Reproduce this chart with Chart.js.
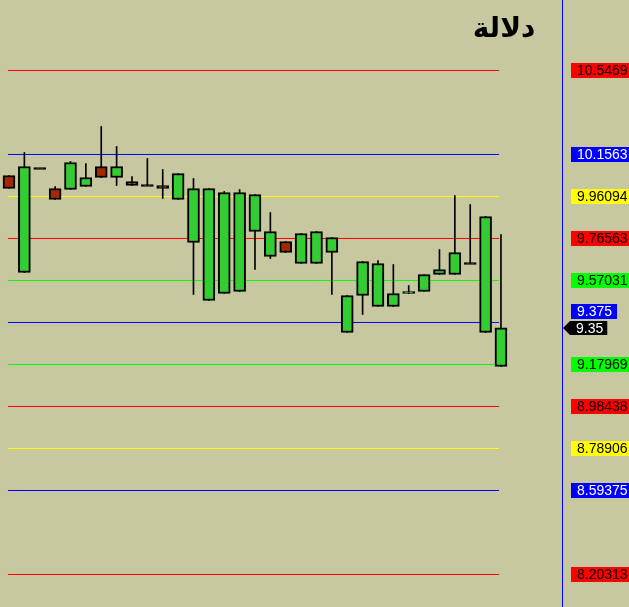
<!DOCTYPE html>
<html>
<head>
<meta charset="utf-8">
<script src="https://cdn.jsdelivr.net/npm/chart.js@4.4.1/dist/chart.umd.min.js"></script>
<style>
html,body{margin:0;padding:0;background:#C8C8A0;overflow:hidden}
#wrap{width:629px;height:607px;position:relative}
</style>
</head>
<body>
<div id="wrap"><canvas id="c" width="629" height="607"></canvas></div>
<script>
// ---- data ----
const titleText = 'دلالة';
const sessions = [1,2,3,4,5,6,7,8,9,10,11,12,13,14,15,16,17,18,19,20,21,22,23,24,25,26,27,28,29,30,31,32,33];
const opens  = [10.0586, 9.6075,10.0912, 9.9982, 9.9935,10.0075,10.1005,10.0493,10.0307,10.0121,10.0121, 9.9470, 9.7470, 9.4773, 9.5099, 9.5192, 9.7982, 9.6819, 9.7517, 9.6494, 9.6494, 9.7005, 9.3285, 9.5006, 9.4494, 9.4494, 9.5099, 9.5192, 9.5982, 9.5982, 9.6494, 9.3285, 9.1704];
const highs  = [10.0586,10.1656,10.0912,10.0075,10.1237,10.1144,10.2865,10.1935,10.0540,10.1377,10.0865,10.0679,10.0447, 9.9982, 9.9842, 9.9935, 9.9702, 9.8865, 9.7517, 9.7889, 9.7982, 9.7703, 9.5006, 9.6587, 9.6633, 9.6447, 9.5471, 9.5982, 9.7145, 9.9656, 9.9237, 9.8679, 9.7842];
const lows   = [ 9.9982, 9.6075,10.0912, 9.9470, 9.9935,10.0075,10.0493,10.0121,10.0121,10.0121, 9.9517, 9.9470, 9.5052, 9.4773, 9.5099, 9.5192, 9.6215, 9.6726, 9.7005, 9.6494, 9.6494, 9.5052, 9.3285, 9.4122, 9.4494, 9.4494, 9.5099, 9.5192, 9.5982, 9.5982, 9.6494, 9.3285, 9.1704];
const closes = [ 9.9982,10.1005,10.0912, 9.9470,10.1191,10.0493,10.0493,10.1005,10.0121,10.0121, 9.9982,10.0679, 9.9982, 9.9982, 9.9795, 9.9795, 9.9702, 9.7982, 9.7005, 9.7889, 9.7982, 9.7703, 9.5006, 9.6587, 9.6494, 9.5099, 9.5192, 9.5982, 9.6215, 9.7005, 9.6494, 9.8679, 9.3500];
const levels      = [10.5469, 10.1563, 9.96094, 9.76563, 9.57031, 9.375, 9.17969, 8.98438, 8.78906, 8.59375, 8.20313];
const levelLabels = ['10.5469','10.1563','9.96094','9.76563','9.57031','9.375','9.17969','8.98438','8.78906','8.59375','8.20313'];
const lastPrice = 9.35;
const lastPriceLabel = '9.35';

// ---- styles ----
const levelColors = ['#FF0000','#0000FF','#FFFF00','#FF0000','#00FF00','#0000FF','#00FF00','#FF0000','#FFFF00','#0000FF','#FF0000'];
const levelTextColors = levelColors.map(c => c === '#0000FF' ? '#FFFFFF' : '#000000');
const BG = '#C8C8A0';
const UP = '#33CC33';
const DOWN = '#A32800';
const DOJI_HALF = 0.0046;

const idx = sessions.map((s, i) => i);
const bodyData = idx.map(i => {
  const o = opens[i], c = closes[i];
  if (o === c) return {x: i, y: [o - DOJI_HALF, o + DOJI_HALF]};
  return {x: i, y: [Math.min(o, c), Math.max(o, c)]};
});
const wickData = idx.map(i => ({x: i, y: [lows[i], highs[i]]}));
const bodyColor = ctx => {
  const i = ctx.dataIndex;
  if (opens[i] === closes[i]) return '#000000';
  return closes[i] > opens[i] ? UP : DOWN;
};

const levelDatasets = levels.map((v, k) => ({
  type: 'line',
  data: [{x: -0.07, y: v}, {x: 31.87, y: v}],
  borderColor: levelColors[k],
  borderWidth: 1,
  pointRadius: 0,
  fill: false,
  order: 3
}));

const bgPlugin = {
  id: 'bg',
  beforeDraw(chart) {
    const ctx = chart.ctx;
    ctx.save();
    ctx.fillStyle = BG;
    ctx.fillRect(0, 0, chart.width, chart.height);
    ctx.restore();
  }
};

const labelPlugin = {
  id: 'levelLabels',
  afterDraw(chart) {
    const ctx = chart.ctx;
    const ys = chart.scales.y;
    const xBox = chart.chartArea.right + 9;
    const h = 15;
    ctx.save();
    ctx.font = '14px "Liberation Sans", Arial, sans-serif';
    ctx.textBaseline = 'middle';
    ctx.textAlign = 'left';
    const py = ys.getPixelForValue(lastPrice);
    const pTop = py - 7, pBot = py + 7;
    levels.forEach((v, k) => {
      let cy = ys.getPixelForValue(v);
      // collision avoidance with last-price tag
      if (cy + h / 2 > pTop - 2 && cy - h / 2 < pBot + 2) {
        cy = (cy <= py) ? pTop - 2 - h / 2 : pBot + 2 + h / 2;
      }
      const tw = ctx.measureText(levelLabels[k]).width;
      ctx.fillStyle = levelColors[k];
      ctx.fillRect(xBox, Math.round(cy - h / 2), tw + 11, h);
      ctx.fillStyle = levelTextColors[k];
      ctx.fillText(levelLabels[k], xBox + 6, cy + 1);
    });
    // last price tag with arrow
    const tw = ctx.measureText(lastPriceLabel).width;
    const tip = chart.chartArea.right + 1;
    ctx.fillStyle = '#000000';
    ctx.beginPath();
    ctx.moveTo(tip, py);
    ctx.lineTo(tip + 7, pTop);
    ctx.lineTo(xBox + 5 + tw + 4, pTop);
    ctx.lineTo(xBox + 5 + tw + 4, pBot);
    ctx.lineTo(tip + 7, pBot);
    ctx.closePath();
    ctx.fill();
    ctx.fillStyle = '#FFFFFF';
    ctx.fillText(lastPriceLabel, xBox + 5, py + 1);
    // title
    ctx.fillStyle = '#000000';
    ctx.font = 'bold 28px "DejaVu Sans", sans-serif';
    ctx.textAlign = 'center';
    ctx.textBaseline = 'middle';
    ctx.fillText(titleText, 504, 30);
    ctx.restore();
  }
};

new Chart(document.getElementById('c'), {
  type: 'bar',
  data: {
    datasets: [
      {
        label: 'body',
        data: bodyData,
        backgroundColor: bodyColor,
        borderColor: '#000000',
        borderWidth: 2,
        borderSkipped: false,
        barThickness: 12,
        grouped: false,
        order: 0
      },
      {
        label: 'wick',
        data: wickData,
        backgroundColor: '#000000',
        borderWidth: 0,
        barThickness: 1,
        grouped: false,
        order: 1
      },
      ...levelDatasets
    ]
  },
  options: {
    responsive: false,
    animation: false,
    layout: {padding: 0},
    plugins: {legend: {display: false}, tooltip: {enabled: false}, title: {display: false}},
    scales: {
      x: {
        type: 'linear',
        min: -0.585,
        max: 35.97,
        display: false,
        offset: false
      },
      y: {
        position: 'right',
        min: 8.0520,
        max: 10.8747,
        grid: {display: false, drawTicks: false},
        border: {display: true, color: '#0000FF', width: 1},
        ticks: {display: false},
        afterFit(scale) { scale.width = 67; }
      }
    }
  },
  plugins: [bgPlugin, labelPlugin]
});
</script>
</body>
</html>
